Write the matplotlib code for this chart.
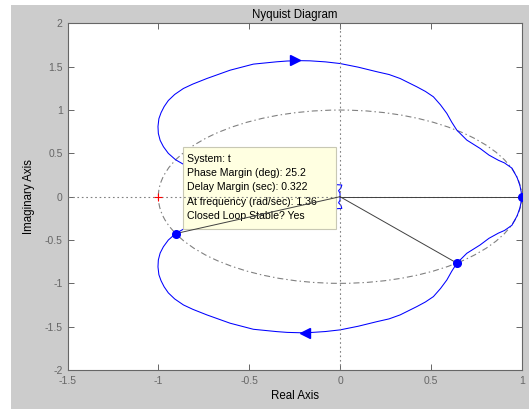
import matplotlib
matplotlib.use("Agg")
import matplotlib.pyplot as plt
from matplotlib.patches import Circle, Rectangle

plt.rcParams["font.family"] = ["Liberation Sans", "DejaVu Sans"]

# positive-frequency branch of the Nyquist curve
re_pos = [1.0, 0.997, 0.99, 0.975, 0.946, 0.905, 0.872, 0.82, 0.771, 0.698,
          0.643, 0.615, 0.588, 0.553, 0.514, 0.47, 0.423, 0.331, 0.27, 0.203,
          0.1, 0.0, -0.08, -0.165, -0.22, -0.29, -0.348, -0.477, -0.605, -0.733,
          -0.81, -0.862, -0.91, -0.945, -0.968, -0.985, -0.997, -1.002, -1.0, -0.99,
          -0.972, -0.945, -0.905, -0.85, -0.6, -0.3, -0.1, -0.03, 0.01, 0.005,
          -0.008, 0.0, 0.0]
im_pos = [0.0, -0.06, -0.13, -0.22, -0.33, -0.39, -0.42, -0.48, -0.557, -0.653,
          -0.768, -0.86, -0.961, -1.06, -1.153, -1.215, -1.268, -1.364, -1.41, -1.442,
          -1.495, -1.537, -1.556, -1.568, -1.57, -1.566, -1.557, -1.530, -1.46, -1.364,
          -1.30, -1.249, -1.18, -1.11, -1.04, -0.97, -0.90, -0.81, -0.73, -0.65,
          -0.577, -0.50, -0.426, -0.36, -0.26, -0.18, -0.15, -0.14, -0.135, -0.10,
          -0.07, -0.04, 0.0]

# stability margin points on the curve
margin_re = [-0.905, 0.643, 1.0]
margin_im = [-0.426, -0.766, 0.0]

# direction arrows (upper branch, lower branch)
arrow_up = (-0.247, 1.577)
arrow_dn = (-0.192, -1.569)

tip_lines = ["System: t",
             "Phase Margin (deg): 25.2",
             "Delay Margin (sec): 0.322",
             "At frequency (rad/sec): 1.36",
             "Closed Loop Stable? Yes"]

W, H = 529, 409
fig = plt.figure(figsize=(W / 100, H / 100), dpi=100)
fig.patch.set_facecolor("white")
fig.patches.append(Rectangle((11 / W, 0), 1, (H - 5) / H, transform=fig.transFigure,
                             facecolor="#cccccc", edgecolor="none", zorder=-10))

ax = fig.add_axes([67.5 / W, 39 / H, 454.2 / W, 385.6 / H - 39 / H])
ax.set_facecolor("white")

axc = "#666666"
blue = "#0000ff"

# unit circle
ax.add_patch(Circle((0, 0), 1, fill=False, edgecolor="#808080", lw=0.8,
                    ls=(0, (5.4, 2.7, 1.3, 2.7)), zorder=1))

# Nyquist curve, both branches
ax.plot(re_pos, im_pos, color=blue, lw=0.75, zorder=2)
ax.plot(re_pos, [-v for v in im_pos], color=blue, lw=0.75, zorder=2)
ax.plot(*arrow_up, marker=">", ms=7, color=blue, zorder=2)
ax.plot(*arrow_dn, marker="<", ms=7, color=blue, zorder=2)

# data tip box
ax.add_patch(Rectangle((-0.867, -0.375), 0.845, 0.945, facecolor="#ffffe1",
                       edgecolor="#c8c8b4", lw=0.8, zorder=3))
for i, s in enumerate(tip_lines):
    ax.text(-0.844, 0.435 - i * 0.1644, s, fontsize=7.6, va="center", ha="left",
            color="black", zorder=4)

# axis lines through origin
ax.axhline(0, color="#808080", lw=0.8, ls=(0, (1.5, 2.5)), zorder=5)
ax.axvline(0, color="#808080", lw=0.8, ls=(0, (1.5, 2.5)), zorder=5)

# margin lines from origin
for x, y in zip(margin_re, margin_im):
    ax.plot([0, x], [0, y], color="#404040", lw=0.7, zorder=5)
ax.plot(margin_re, margin_im, ls="none", marker="o", ms=5.5, color=blue, zorder=6)

# critical point
ax.plot(-1, 0, marker="+", ms=6, mew=0.8, color="red", zorder=6)

ax.set_xlim(-1.5, 1)
ax.set_ylim(-2, 2)
ax.set_xticks([-1.5, -1, -0.5, 0, 0.5, 1])
ax.set_xticklabels(["-1.5", "-1", "-0.5", "0", "0.5", "1"])
ax.set_yticks([-2, -1.5, -1, -0.5, 0, 0.5, 1, 1.5, 2])
ax.set_yticklabels(["-2", "-1.5", "-1", "-0.5", "0", "0.5", "1", "1.5", "2"])
ax.tick_params(direction="in", length=4, width=0.7, colors=axc, labelsize=7.5,
               top=True, right=True)
ax.tick_params(axis="x", pad=4)
ax.tick_params(axis="y", pad=3.5)
for sp in ax.spines.values():
    sp.set_color(axc)
    sp.set_linewidth(0.8)

ax.set_title("Nyquist Diagram", fontsize=8.3, pad=4)
ax.set_xlabel("Real Axis", fontsize=8.3, labelpad=3)
ax.set_ylabel("Imaginary Axis", fontsize=8.3, labelpad=7)

fig.savefig("out.png", dpi=100)
